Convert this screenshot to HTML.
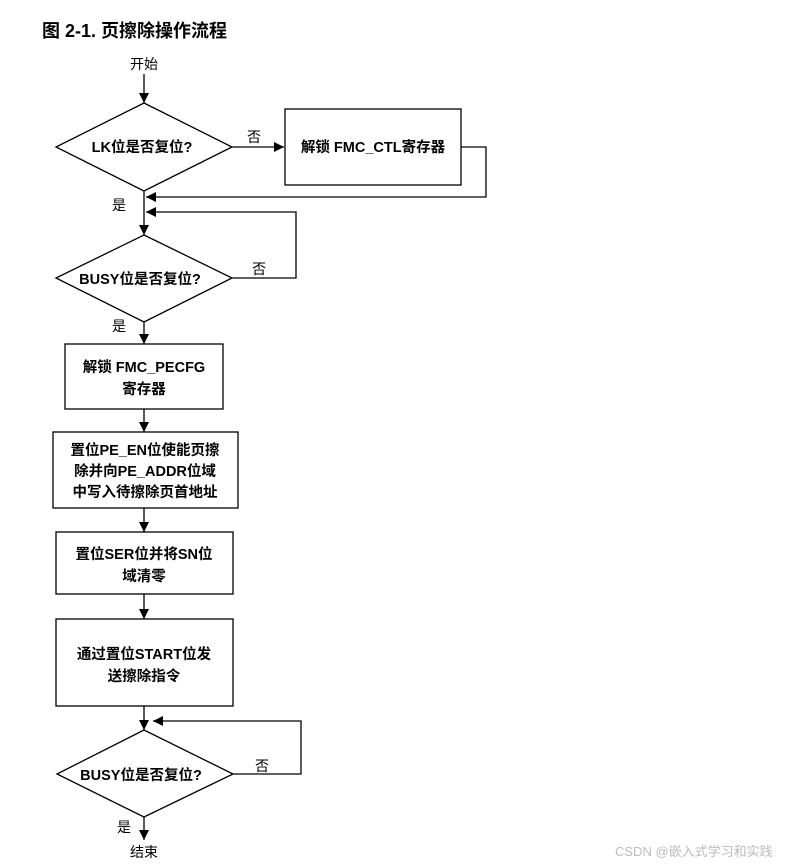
<!DOCTYPE html>
<html><head><meta charset="utf-8"><style>
html,body{margin:0;padding:0;background:#fff;}
svg{display:block;}
text{font-family:"Liberation Sans","Noto Sans CJK SC",sans-serif;fill:#000;}
.b{font-weight:bold;font-size:14.5px;}
.n{font-size:14px;}
</style></head><body>
<svg width="807" height="867" viewBox="0 0 807 867" xmlns="http://www.w3.org/2000/svg">
<defs><marker id="a" viewBox="0 0 10 10" refX="10" refY="5" markerWidth="10" markerHeight="10" markerUnits="userSpaceOnUse" orient="auto"><path d="M0,0 L10,5 L0,10 z" fill="#000"/></marker></defs>
<text x="42" y="37" style="font-weight:bold;font-size:18px">图 2-1. 页擦除操作流程</text>
<g stroke="#000" stroke-width="1.3" fill="none">
<line x1="144" y1="74" x2="144" y2="103" marker-end="url(#a)"/>
<polygon points="144,103 232,147 144,191 56,147" fill="#fff"/>
<line x1="232" y1="147" x2="284" y2="147" marker-end="url(#a)"/>
<rect x="285" y="109" width="176" height="76" fill="#fff"/>
<polyline points="461,147 486,147 486,197 146,197" marker-end="url(#a)"/>
<line x1="144" y1="191" x2="144" y2="235" marker-end="url(#a)"/>
<polyline points="232,278 296,278 296,212 146,212" marker-end="url(#a)"/>
<polygon points="144,235 232,278 144,322 56,278" fill="#fff"/>
<line x1="144" y1="322" x2="144" y2="344" marker-end="url(#a)"/>
<rect x="65" y="344" width="158" height="65" fill="#fff"/>
<line x1="144" y1="409" x2="144" y2="432" marker-end="url(#a)"/>
<rect x="53" y="432" width="185" height="76" fill="#fff"/>
<line x1="144" y1="508" x2="144" y2="532" marker-end="url(#a)"/>
<rect x="56" y="532" width="177" height="62" fill="#fff"/>
<line x1="144" y1="594" x2="144" y2="619" marker-end="url(#a)"/>
<rect x="56" y="619" width="177" height="87" fill="#fff"/>
<line x1="144" y1="706" x2="144" y2="730" marker-end="url(#a)"/>
<polyline points="233,774 301,774 301,721 153,721" marker-end="url(#a)"/>
<polygon points="144,730 233,774 144,817 57,774" fill="#fff"/>
<line x1="144" y1="817" x2="144" y2="840" marker-end="url(#a)"/>
</g>
<text class="n" x="144" y="69" text-anchor="middle">开始</text>
<text class="b" x="142" y="152" text-anchor="middle">LK位是否复位?</text>
<text class="n" x="254" y="142" text-anchor="middle">否</text>
<text class="b" x="373" y="152" text-anchor="middle">解锁 FMC_CTL寄存器</text>
<text class="n" x="119" y="210" text-anchor="middle">是</text>
<text class="b" x="140" y="284" text-anchor="middle">BUSY位是否复位?</text>
<text class="n" x="259" y="274" text-anchor="middle">否</text>
<text class="n" x="119" y="331" text-anchor="middle">是</text>
<text class="b" x="144" y="372" text-anchor="middle">解锁 FMC_PECFG</text>
<text class="b" x="144" y="394" text-anchor="middle">寄存器</text>
<text class="b" x="145" y="455" text-anchor="middle">置位PE_EN位使能页擦</text>
<text class="b" x="145" y="476" text-anchor="middle">除并向PE_ADDR位域</text>
<text class="b" x="145" y="497" text-anchor="middle">中写入待擦除页首地址</text>
<text class="b" x="144" y="559" text-anchor="middle">置位SER位并将SN位</text>
<text class="b" x="144" y="581" text-anchor="middle">域清零</text>
<text class="b" x="144" y="659" text-anchor="middle">通过置位START位发</text>
<text class="b" x="144" y="681" text-anchor="middle">送擦除指令</text>
<text class="b" x="141" y="780" text-anchor="middle">BUSY位是否复位?</text>
<text class="n" x="262" y="771" text-anchor="middle">否</text>
<text class="n" x="124" y="832" text-anchor="middle">是</text>
<text class="n" x="144" y="857" text-anchor="middle">结束</text>
<text x="615" y="856" style="font-size:13px;fill:#bbb">CSDN @嵌入式学习和实践</text>
</svg>
</body></html>
